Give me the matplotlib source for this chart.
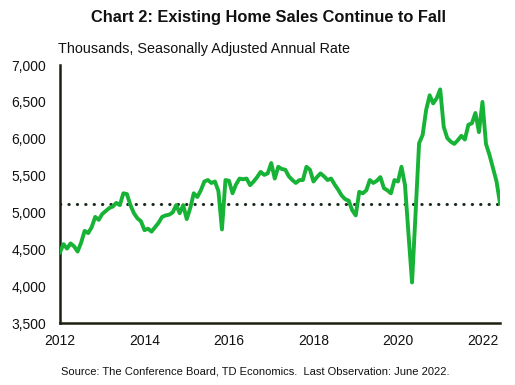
import matplotlib
matplotlib.use("Agg")
import matplotlib.pyplot as plt
from matplotlib.ticker import FuncFormatter

plt.rcParams['font.family'] = ['Liberation Sans', 'DejaVu Sans']

start_year = 2012
sales = [
    4460, 4570, 4510, 4580, 4540, 4470, 4590, 4750, 4720, 4800, 4940, 4900,   # 2012
    4980, 5020, 5060, 5080, 5130, 5100, 5260, 5250, 5100, 4990, 4920, 4880,   # 2013
    4760, 4780, 4740, 4800, 4860, 4940, 4960, 4970, 5000, 5100, 4990, 5100,   # 2014
    4910, 5060, 5260, 5210, 5300, 5420, 5440, 5400, 5420, 5290, 4770, 5440,   # 2015
    5430, 5260, 5380, 5460, 5450, 5460, 5370, 5420, 5480, 5550, 5510, 5530,   # 2016
    5670, 5460, 5620, 5590, 5580, 5490, 5440, 5400, 5440, 5440, 5620, 5580,   # 2017
    5420, 5480, 5530, 5490, 5440, 5460, 5380, 5310, 5230, 5180, 5160, 5030,   # 2018
    4960, 5280, 5260, 5300, 5440, 5400, 5430, 5480, 5330, 5300, 5260, 5440,   # 2019
    5420, 5620, 5370, 4700, 4050, 4990, 5940, 6050, 6390, 6590, 6480, 6550,   # 2020
    6670, 6160, 6010, 5960, 5930, 5980, 6040, 5990, 6190, 6210, 6350, 6090,   # 2021
    6500, 5930, 5780, 5600, 5420, 5120,                                       # 2022
]
dates = [start_year + i / 12 for i in range(len(sales))]
last_value = sales[-1]

yticks = [3500, 4000, 4500, 5000, 5500, 6000, 6500, 7000]
xticks = [2012, 2014, 2016, 2018, 2020, 2022]

fig = plt.figure(figsize=(5.15, 3.85), dpi=100)
ax = fig.add_axes([0.1165, 0.161, 0.8545, 0.670])

ax.plot(dates, sales, color='#17B336', lw=2.8, solid_joinstyle='round', zorder=3)
ax.plot([dates[0], dates[-1]], [last_value, last_value], color='#1c2b1e',
        lw=2.2, linestyle=(0, (0.1, 2.65)), dash_capstyle='round', zorder=2)

ax.set_xlim(dates[0], dates[-1])
ax.set_ylim(3500, 7000)
ax.set_yticks(yticks)
ax.set_xticks(xticks)
ax.yaxis.set_major_formatter(FuncFormatter(lambda v, p: f"{int(v):,}"))
ax.tick_params(axis='both', length=0, labelsize=10, colors='#111111')
ax.tick_params(axis='y', pad=10)
ax.tick_params(axis='x', pad=8)

for s in ['top', 'right']:
    ax.spines[s].set_visible(False)
for s in ['left', 'bottom']:
    ax.spines[s].set_color('#1e1e10')
    ax.spines[s].set_linewidth(1.8)

fig.text(0.521, 0.955, 'Chart 2: Existing Home Sales Continue to Fall', ha='center', va='center',
         fontsize=11.8, fontweight='bold', color='#111111')
fig.text(0.113, 0.873, 'Thousands, Seasonally Adjusted Annual Rate', ha='left', va='center',
         fontsize=10.4, color='#111111')
fig.text(0.495, 0.034, 'Source: The Conference Board, TD Economics.  Last Observation: June 2022.',
         ha='center', va='center', fontsize=8, color='#111111')

fig.savefig('out.png', dpi=100)
